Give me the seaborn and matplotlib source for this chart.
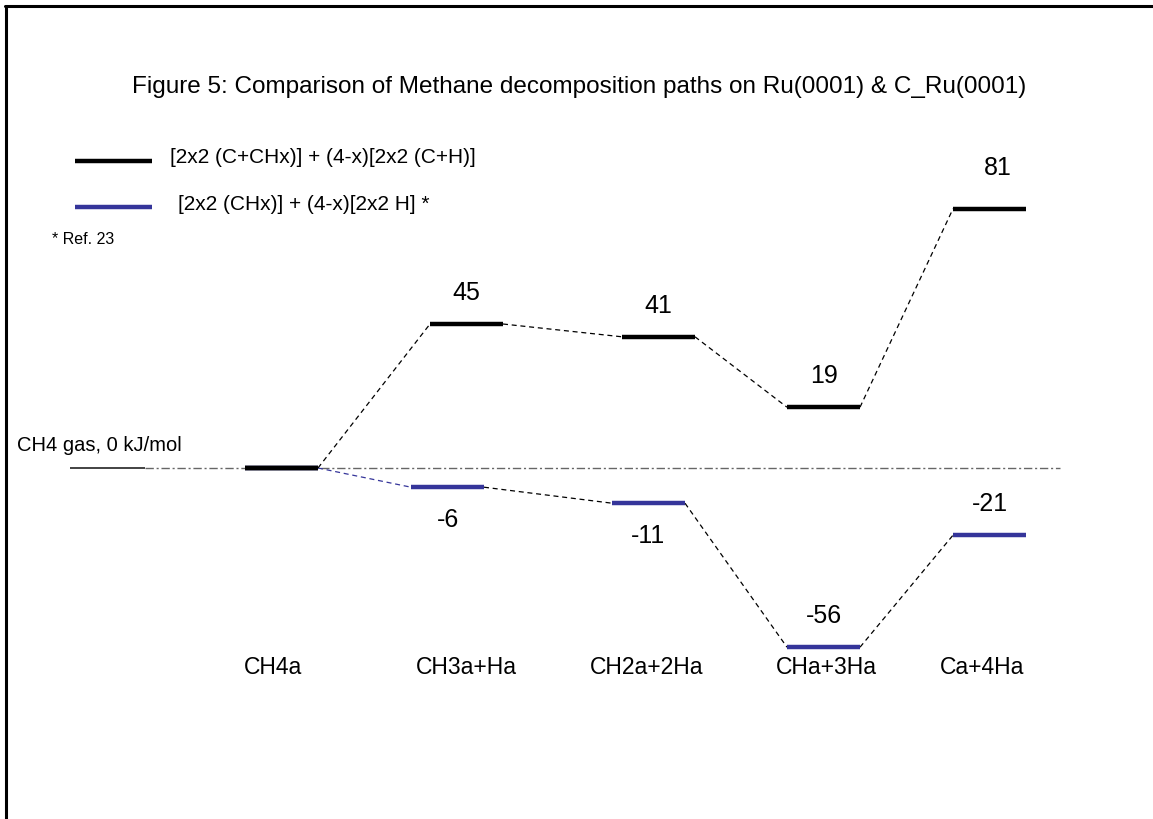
import matplotlib
matplotlib.use("Agg")
import matplotlib.pyplot as plt
from matplotlib.lines import Line2D
import pandas as pd
import seaborn as sns

# Reaction steps and their energies (kJ/mol, relative to CH4 gas)
steps = ["CH4a", "CH3a+Ha", "CH2a+2Ha", "CHa+3Ha", "Ca+4Ha"]
energy_c = [0, 45, 41, 19, 81]        # on C_Ru(0001)
energy_ref = [0, -6, -11, -56, -21]   # on Ru(0001), Ref. 23
series_names = ["[2x2 (C+CHx)] + (4-x)[2x2 (C+H)]",
                "[2x2 (CHx)] + (4-x)[2x2 H] *"]
title = "Figure 5: Comparison of Methane decomposition paths on Ru(0001) & C_Ru(0001)"

# Layout (horizontal position of each level in canvas units)
left_c = [245, 430, 622, 787, 953]
left_ref = [245, 411, 612, 787, 953]
level_w = 73
step_label_x = [273, 466, 647, 826, 982]
label_pos_c = ["above"] * 5
label_pos_ref = [None, "below", "below", "above", "above"]

BLACK = "#000000"
BLUE = "#35359a"
W, H = 1153, 820
PX_PER_UNIT = 3.2
ZERO_PX = 469

sns.set_theme(style="white")
plt.rcParams["font.family"] = ["Liberation Sans", "DejaVu Sans"]
plt.rcParams["text.color"] = "black"

fig = plt.figure(figsize=(W / 100, H / 100), dpi=100)
ax = fig.add_axes([0, 0, 1, 1])
ax.set_xlim(0, W)
ax.set_ylim((ZERO_PX - H) / PX_PER_UNIT, ZERO_PX / PX_PER_UNIT)
ax.axis("off")

# Long-form tables: energy levels and dashed connectors
lv_rows, cn_rows = [], []
for name, lefts, energies in (("ref", left_ref, energy_ref), ("c", left_c, energy_c)):
    for i, (x0, e) in enumerate(zip(lefts, energies)):
        uid = f"{name}-{i}"
        lv_rows += [dict(series=name, unit=uid, x=x0, E=e),
                    dict(series=name, unit=uid, x=x0 + level_w, E=e)]
    for i in range(len(energies) - 1):
        x_start = (left_c[0] if i == 0 else lefts[i]) + level_w
        ink = "blue" if (name == "ref" and i == 0) else "black"
        uid = f"{name}-c{i}"
        cn_rows += [dict(ink=ink, unit=uid, x=x_start, E=energies[i]),
                    dict(ink=ink, unit=uid, x=lefts[i + 1], E=energies[i + 1])]
levels = pd.DataFrame(lv_rows)
links = pd.DataFrame(cn_rows)

# Reference zero line (CH4 gas)
ax.plot([70, 145], [0, 0], color="#222222", lw=1.2, zorder=1)
ax.plot([145, 1060], [0, 0], color="#666666", lw=1.0,
        linestyle=(0, (6, 2, 1.5, 2)), zorder=1)

sns.lineplot(data=links, x="x", y="E", hue="ink", units="unit",
             estimator=None, sort=False, palette={"black": BLACK, "blue": BLUE},
             lw=0.9, linestyle=(0, (4, 3)), legend=False, ax=ax, zorder=2)
sns.lineplot(data=levels, x="x", y="E", hue="series", units="unit",
             estimator=None, sort=False, palette={"c": BLACK, "ref": BLUE},
             hue_order=["ref", "c"], lw=3.2, legend=False, ax=ax, zorder=3)
# keep the CH4a level black on top
ax.plot([left_c[0], left_c[0] + level_w], [energy_c[0]] * 2, color=BLACK,
        lw=3.2, zorder=4)
for ln in ax.lines:
    ln.set_solid_capstyle("butt")

# Value labels
off = 32 / PX_PER_UNIT
for lefts, energies, where in ((left_c, energy_c, label_pos_c),
                               (left_ref, energy_ref, label_pos_ref)):
    for x0, e, w in zip(lefts, energies, where):
        if w is None or e == 0:
            continue
        y = e + off if w == "above" else e - off
        ax.text(x0 + level_w / 2 + (8 if e == 81 else 0), y + (3 if e == 81 else 0),
                f"{e}", ha="center", va="center", fontsize=18)

# Step names
for x, s in zip(step_label_x, steps):
    ax.text(x, (ZERO_PX - 668) / PX_PER_UNIT, s, ha="center", va="center",
            fontsize=16.5)

ax.text(17, (ZERO_PX - 446) / PX_PER_UNIT, "CH4 gas, 0 kJ/mol",
        ha="left", va="center", fontsize=14.5)

# Title
fig.text(579 / W, 1 - 87 / H, title, ha="center", va="center", fontsize=17.5)

# Legend drawn by hand
fig.add_artist(Line2D([75 / W, 152 / W], [1 - 162 / H] * 2, color=BLACK, lw=3.2,
                      solid_capstyle="butt"))
fig.add_artist(Line2D([75 / W, 152 / W], [1 - 208 / H] * 2, color=BLUE, lw=3.2,
                      solid_capstyle="butt"))
fig.text(170 / W, 1 - 158 / H, series_names[0], ha="left", va="center", fontsize=15)
fig.text(178 / W, 1 - 204 / H, series_names[1], ha="left", va="center", fontsize=15)
fig.text(52 / W, 1 - 240 / H, "* Ref. 23", ha="left", va="center", fontsize=11.5)

# Outer frame (top and left edges)
fig.add_artist(Line2D([5 / W, 1], [1 - 7 / H] * 2, color="black", lw=2.2))
fig.add_artist(Line2D([6 / W] * 2, [1 - 7 / H, 0], color="black", lw=2.2))

fig.savefig("out.png", dpi=100, facecolor="white")
